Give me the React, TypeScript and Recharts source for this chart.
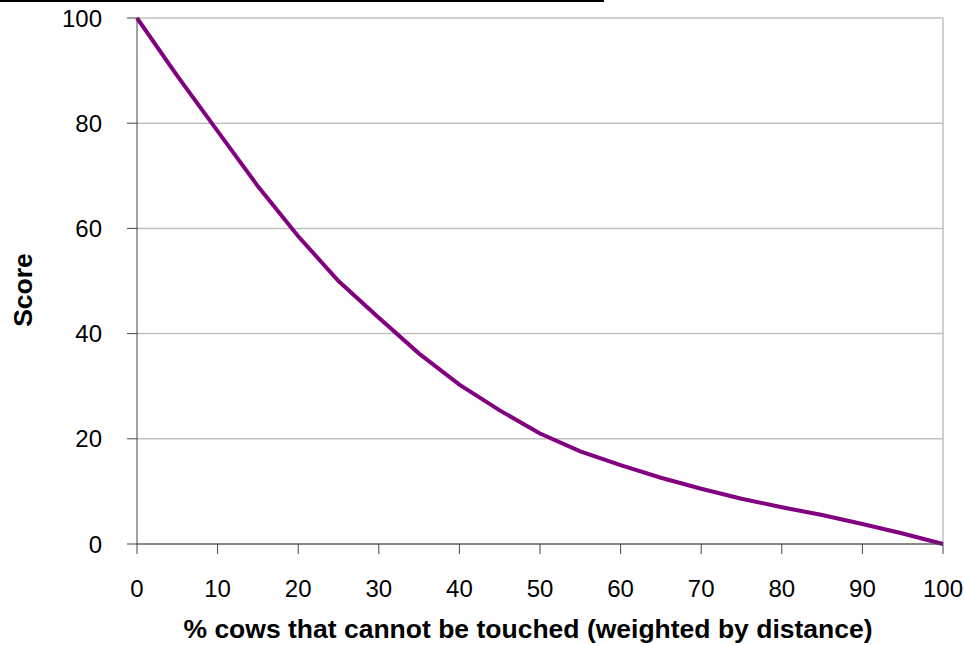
import React from "react";
import { CartesianGrid, Line, LineChart, ReferenceLine, XAxis, YAxis } from "recharts";

// % cows that cannot be touched (weighted by distance)
const pctUntouchable = [0, 5, 10, 15, 20, 25, 30, 35, 40, 45, 50, 55, 60, 65, 70, 75, 80, 85, 90, 95, 100];
const scores = [100, 89, 78.5, 68, 58.5, 50, 43, 36.2, 30.3, 25.4, 21, 17.6, 15, 12.6, 10.5, 8.6, 7, 5.5, 3.8, 2, 0];

const xTicks = [0, 10, 20, 30, 40, 50, 60, 70, 80, 90, 100];
const yTicks = [0, 20, 40, 60, 80, 100];

const xTitle = "% cows that cannot be touched (weighted by distance)";
const yTitle = "Score";

const data = pctUntouchable.map((x, i) => ({ x, score: scores[i] }));

const font = "'Liberation Sans', Arial, Helvetica, sans-serif";

export default function App() {
  return (
    <div style={{ position: "absolute", left: 0, top: 0, width: 964, height: 646, background: "#fff", fontFamily: font }}>
      {/* stray rule along the top edge of the source image */}
      <div style={{ position: "absolute", left: 0, top: 0, width: 604, height: 2, background: "#000" }} />
      <LineChart width={964} height={646} data={data} margin={{ top: 18, right: 21, left: 0, bottom: 0 }}>
        <CartesianGrid horizontal vertical={false} stroke="#c0c0c0" strokeWidth={1.5} />
        <ReferenceLine x={100} stroke="#c0c0c0" strokeWidth={1.5} />
        <XAxis
          dataKey="x"
          type="number"
          domain={[0, 100]}
          ticks={xTicks}
          height={102}
          tickSize={10}
          tickMargin={26}
          stroke="#444"
          tick={{ fill: "#000", fontSize: 24, fontFamily: font }}
        />
        <YAxis
          type="number"
          domain={[0, 100]}
          ticks={yTicks}
          width={137}
          tickSize={10}
          tickMargin={25}
          stroke="#444"
          tick={{ fill: "#000", fontSize: 24, fontFamily: font }}
        />
        <Line
          type="linear"
          dataKey="score"
          stroke="#800080"
          strokeWidth={4}
          dot={false}
          isAnimationActive={false}
        />
      </LineChart>
      {/* axis titles */}
      <svg width={964} height={646} style={{ position: "absolute", left: 0, top: 0, pointerEvents: "none" }}>
        <text x={528} y={638} textAnchor="middle" fontSize={26.5} fontWeight="bold" fontFamily={font} fill="#000">
          {xTitle}
        </text>
        <text
          x={0}
          y={0}
          transform="translate(32, 290) rotate(-90)"
          textAnchor="middle"
          fontSize={26.5}
          fontWeight="bold"
          fontFamily={font}
          fill="#000"
        >
          {yTitle}
        </text>
      </svg>
    </div>
  );
}
